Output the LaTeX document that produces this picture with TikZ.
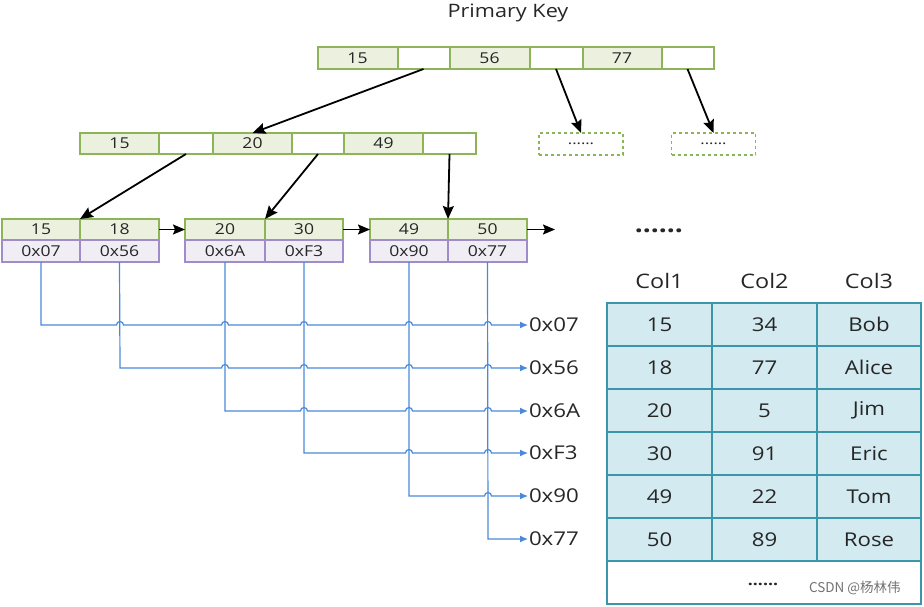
\documentclass[tikz,border=0pt]{standalone}
\usepackage{fontspec}
\setmainfont{Open Sans}[FakeStretch=1.17]
\newfontfamily\cjk{Noto Sans CJK SC}
\usetikzlibrary{arrows.meta}
\definecolor{grn}{HTML}{8DB459}
\definecolor{grnf}{HTML}{EBF1DE}
\definecolor{pur}{HTML}{A08CC8}
\definecolor{purf}{HTML}{F0EEF4}
\definecolor{blu}{HTML}{4A88DA}
\definecolor{tbf}{HTML}{D3EAF0}
\definecolor{tbd}{HTML}{3C96AA}
\definecolor{txt}{HTML}{262626}
\begin{document}
\begin{tikzpicture}[x=1pt,y=-1pt,
  every node/.style={text=txt, inner sep=0pt, outer sep=0pt},
  gk/.style={draw=grn, fill=grnf, line width=2pt, minimum height=21pt, font=\fontsize{15}{15}\selectfont},
  ge/.style={gk, fill=white},
  pc/.style={draw=pur, fill=purf, line width=1.5pt, minimum height=22pt, font=\fontsize{15}{15}\selectfont},
  dbox/.style={draw=grn, dashed, line width=1.6pt, minimum width=84pt, minimum height=22pt, font=\fontsize{14}{14}\selectfont},
  tb/.style={draw=tbd, fill=tbf, line width=2pt, minimum width=105pt, minimum height=43pt, font=\fontsize{19}{19}\selectfont},
  hdr/.style={font=\fontsize{20}{20}\selectfont},
  hexl/.style={anchor=west, inner xsep=1pt, font=\fontsize{19}{19}\selectfont},
  karr/.style={line width=1.8pt, -{Stealth[length=13pt,width=11pt,inset=2pt]}},
  larr/.style={line width=1.6pt, -{Stealth[length=12pt,width=10pt,inset=2pt]}},
  barr/.style={draw=blu, line width=1.2pt, -{Latex[length=8pt,width=7pt]}}
]
\useasboundingbox (0,0) rectangle (924,606);

% title
\node[font=\fontsize{18.5}{18.5}\selectfont] (title) at (508,13) {Primary Key};

% root
\node[gk, minimum width=80pt, minimum height=22pt] (t1) at (357.5,58) {15};
\node[ge, minimum width=52pt, minimum height=22pt] (t2) at (423.5,58) {};
\node[gk, minimum width=80pt, minimum height=22pt] (t3) at (489.5,58) {56};
\node[ge, minimum width=53pt, minimum height=22pt] (t4) at (556,58) {};
\node[gk, minimum width=79pt, minimum height=22pt] (t5) at (622,58) {77};
\node[ge, minimum width=52pt, minimum height=22pt] (t6) at (687.5,58) {};

% second level
\node[gk, minimum width=79pt] (b1) at (119.5,143.5) {15};
\node[ge, minimum width=54pt] (b2) at (186,143.5) {};
\node[gk, minimum width=79pt] (b3) at (252.5,143.5) {20};
\node[ge, minimum width=52pt] (b4) at (318,143.5) {};
\node[gk, minimum width=79pt] (b5) at (383.5,143.5) {49};
\node[ge, minimum width=53pt] (b6) at (449.5,143.5) {};

\node[dbox] (d1) at (581,144) {......};
\node[dbox] (d2) at (713.5,144) {......};

% leaves
\node[gk, minimum width=78pt] (l1a) at (41,229.5) {15};
\node[gk, minimum width=79pt] (l1b) at (119.5,229.5) {18};
\node[pc, minimum width=78pt] (p1) at (41,251) {0x07};
\node[pc, minimum width=79pt] (p2) at (119.5,251) {0x56};

\node[gk, minimum width=80pt] (l2a) at (225,229.5) {20};
\node[gk, minimum width=78pt] (l2b) at (304,229.5) {30};
\node[pc, minimum width=80pt] (p3) at (225,251) {0x6A};
\node[pc, minimum width=78pt] (p4) at (304,251) {0xF3};

\node[gk, minimum width=78pt] (l3a) at (409,229.5) {49};
\node[gk, minimum width=79pt] (l3b) at (487.5,229.5) {50};
\node[pc, minimum width=78pt] (p5) at (409,251) {0x90};
\node[pc, minimum width=79pt] (p6) at (487.5,251) {0x77};

\coordinate (lend) at (555,229.5);
\node[font=\bfseries\fontsize{24}{24}\selectfont] (dots) at (659,231) {......};

% tree arrows
\draw[karr] (t2.south) -- (b3.north);
\draw[karr] (t4.south) -- (d1.north);
\draw[karr] (t6.south) -- (d2.north);
\draw[karr] (b2.south) -- (l1a.north east);
\draw[karr] (b4.south) -- (l2a.north east);
\draw[karr] (b6.south) -- (l3a.north east);
\draw[larr] (l1b.east) -- (l2a.west);
\draw[larr] (l2b.east) -- (l3a.west);
\draw[larr] (l3b.east) -- (lend);

% hex labels
\node[hexl] (h1) at (528,325) {0x07};
\node[hexl] (h2) at (528,368) {0x56};
\node[hexl] (h3) at (528,411) {0x6A};
\node[hexl] (h4) at (528,453) {0xF3};
\node[hexl] (h5) at (528,496) {0x90};
\node[hexl] (h6) at (528,539) {0x77};

% blue pointer lines with hops
\foreach \i/\x/\y/\rest in {1/41/325/{120,225,304,409,488},
                            2/120/368/{225,304,409,488},
                            3/225/411/{304,409,488},
                            4/304/453/{409,488},
                            5/409/496/{488}} {
  \draw[barr] (p\i.south) -- (\x,\y)
    \foreach \xx in \rest { -- (\xx-3.5,\y) arc[start angle=180, end angle=0, radius=3.5pt] }
    -- (h\i.west);
}
\draw[barr] (p6.south) -- (488,539) -- (h6.west);

% table
\node[hdr] (c1) at (659.5,281) {Col1};
\node[hdr] (c2) at (764.5,281) {Col2};
\node[hdr] (c3) at (869,281) {Col3};

\foreach \r/\a/\b/\c [count=\k] in {324.5/15/34/Bob, 367.5/18/77/Alice, 410.5/20/5/Jim, 453.5/30/91/Eric, 496.5/49/22/Tom, 539.5/50/89/Rose} {
  \node[tb] (r\k a) at (659.5,\r) {\a};
  \node[tb] (r\k b) at (764.5,\r) {\b};
  \node[tb, minimum width=104pt] (r\k c) at (869,\r) {\c};
}
\node[tb, fill=white, minimum width=314pt] (rlast) at (764,582.5) {};
\node[font=\bfseries\fontsize{15}{15}\selectfont] (ldots) at (763,584) {......};
\node[text=black!55, font=\cjk\fontsize{13.5}{13.5}\selectfont, anchor=west] (wm) at (809,588) {CSDN @杨林伟};
\end{tikzpicture}
\end{document}
